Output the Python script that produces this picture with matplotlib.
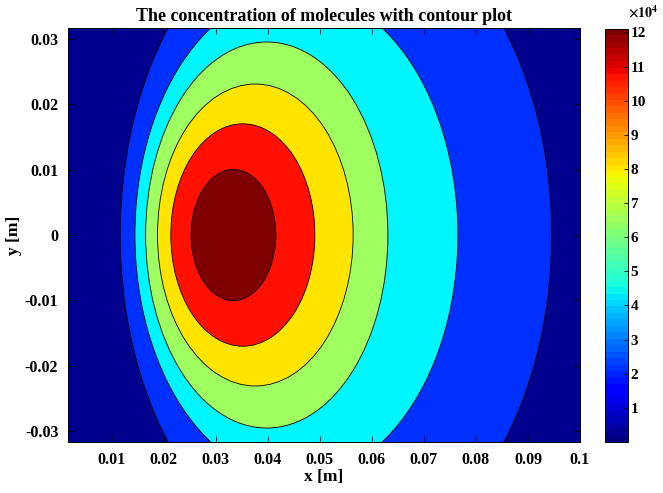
import matplotlib
matplotlib.use("Agg")
import matplotlib.pyplot as plt
from matplotlib.patches import Ellipse
from matplotlib.colors import Normalize
from matplotlib.cm import ScalarMappable

# Contour levels of the concentration (molecules), lowest to highest
levels = [0, 2e4, 4e4, 6e4, 8e4, 10e4, 12e4]
# Iso-concentration boundaries for levels[1:]: centre x, semi-axes in x and y [m]
bound_cx = [0.0531, 0.0455, 0.0398, 0.0376, 0.0352, 0.0334]
bound_cy = [0.0, 0.0, 0.0, 0.0, 0.0, 0.0]
bound_ax = [0.04146, 0.03104, 0.02328, 0.0188, 0.01384, 0.00813]
bound_ay = [0.0505, 0.0374, 0.02956, 0.02312, 0.01703, 0.01003]
c_max = 12.1e4

x_ticks = [0.01, 0.02, 0.03, 0.04, 0.05, 0.06, 0.07, 0.08, 0.09, 0.1]
x_ticklabels = ["0.01", "0.02", "0.03", "0.04", "0.05", "0.06", "0.07", "0.08", "0.09", "0.1"]
y_ticks = [-0.03, -0.02, -0.01, 0, 0.01, 0.02, 0.03]
y_ticklabels = ["-0.03", "-0.02", "-0.01", "0", "0.01", "0.02", "0.03"]
cb_ticks = [1, 2, 3, 4, 5, 6, 7, 8, 9, 10, 11, 12]

# Band colours (jet palette), one per level
fill_colors = ["#00008F", "#0030FF", "#00F6FF", "#A0FF60", "#FFE400", "#FF1000", "#800000"]

plt.rcParams["font.family"] = ["Liberation Serif", "DejaVu Serif"]
plt.rcParams["font.weight"] = "bold"
plt.rcParams["mathtext.fontset"] = "stix"

fig = plt.figure(figsize=(6.63, 4.93), dpi=100)
ax = fig.add_axes([0.1026, 0.1034, 0.7722, 0.8398])
cax = fig.add_axes([0.9118, 0.1034, 0.0347, 0.8378])

ax.set_facecolor(fill_colors[0])
for cx, cy, sx, sy, col in zip(bound_cx, bound_cy, bound_ax, bound_ay, fill_colors[1:]):
    ax.add_patch(Ellipse((cx, cy), 2 * sx, 2 * sy, facecolor=col,
                         edgecolor="black", linewidth=0.6))

ax.set_xlim(0.0016, 0.1)
ax.set_ylim(-0.0317, 0.0317)
ax.set_xticks(x_ticks)
ax.set_xticklabels(x_ticklabels)
ax.set_yticks(y_ticks)
ax.set_yticklabels(y_ticklabels)
ax.tick_params(direction="in", top=True, right=True, length=4, width=0.6,
               labelsize=11.5, pad=7)
for lab in ax.get_xticklabels() + ax.get_yticklabels():
    lab.set_fontweight("bold")
for sp in ax.spines.values():
    sp.set_linewidth(0.7)

ax.set_xlabel("x [m]", fontsize=12.5, fontweight="bold", labelpad=1)
ax.set_ylabel("y [m]", fontsize=12.5, fontweight="bold", labelpad=2)
ax.set_title("The concentration of molecules with contour plot",
             fontsize=13, fontweight="bold", pad=5)

sm = ScalarMappable(norm=Normalize(0, c_max / 1e4), cmap=plt.get_cmap("jet", 64))
cb = fig.colorbar(sm, cax=cax)
cb.set_ticks(cb_ticks)
cb.set_ticklabels([str(t) for t in cb_ticks])
cax.tick_params(direction="in", length=3, width=0.6, labelsize=11, pad=2)
for lab in cax.get_yticklabels():
    lab.set_fontweight("bold")
cb.outline.set_linewidth(0.7)
fig.text(0.993, 0.958, r"$\times10^{4}$", fontsize=10, ha="right", va="bottom")

fig.savefig("out.png", dpi=100)
